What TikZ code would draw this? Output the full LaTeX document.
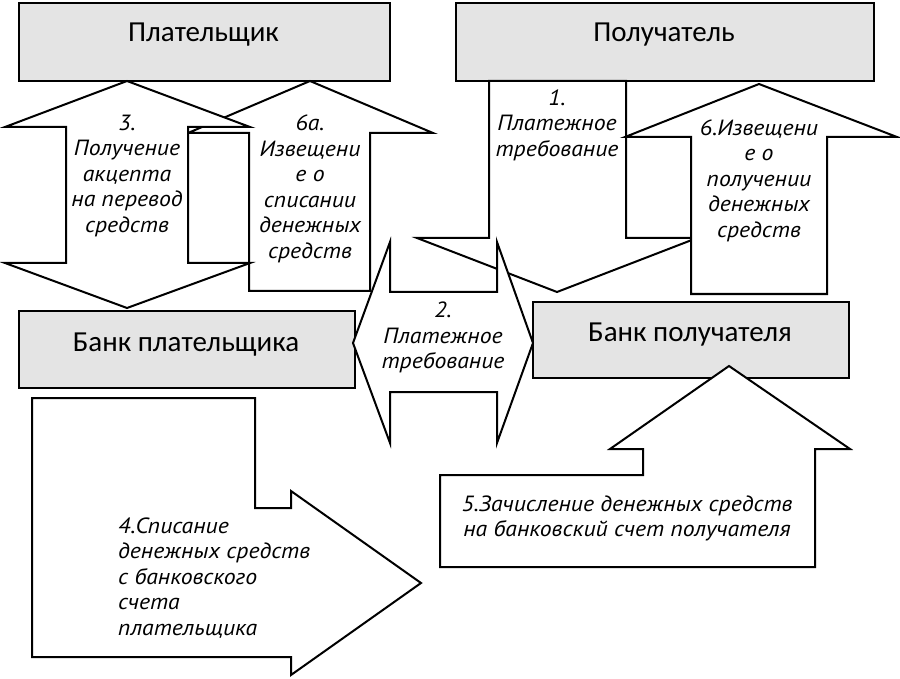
\documentclass[tikz,border=0pt]{standalone}
\usepackage{fontspec}
\setmainfont{Carlito}
\newfontfamily\itf{PT Sans}[FakeStretch=1.08]
\definecolor{boxgray}{RGB}{228,228,228}
\begin{document}
\begin{tikzpicture}[x=1pt,y=-1pt,
  box/.style={draw=black, fill=boxgray, line width=2pt, inner sep=0pt, anchor=north west},
  blk/.style={draw=black, fill=white, line width=2pt, line join=miter, miter limit=20},
  lbl/.style={font=\fontsize{29}{33}\selectfont, anchor=base, inner sep=0pt},
  itl/.style={font=\itf\itshape\fontsize{22}{25.5}\selectfont, align=center, inner sep=0pt},
]
\useasboundingbox[fill=white] (0,0) rectangle (900,679);

% boxes
\node[box, minimum width=371pt, minimum height=78pt] (payer) at (18,2) {};
\node[box, minimum width=418pt, minimum height=78pt] (payee) at (455,2) {};
\node[box, minimum width=336pt, minimum height=77pt] (bankA) at (18,310) {};
\node[box, minimum width=316pt, minimum height=76pt] (bankB) at (532,301) {};

% arrow 6a (behind arrow 3)
\draw[blk] (249,291) -- (249,133) -- (188,133) -- (310,81) -- (433,133) -- (370,133) -- (370,291) -- cycle;
% arrow 3 (double)
\draw[blk] (127,81) -- (250,127) -- (188,127) -- (188,263) -- (250,263) -- (127,308) -- (5,263) -- (66,263) -- (66,127) -- (5,127) -- cycle;
% arrow 1 (down)
\draw[blk] (489,81) -- (626,81) -- (626,238) -- (697,238) -- (557,292) -- (417,238) -- (489,238) -- cycle;
% arrow 6 (up)
\draw[blk] (691,294) -- (691,137) -- (625,137) -- (759,84) -- (897,137) -- (827,137) -- (827,294) -- cycle;
% arrow 2 (double horizontal)
\draw[blk] (353,343) -- (390,242) -- (390,292) -- (497,292) -- (497,242) -- (533,343) -- (497,443) -- (497,392) -- (390,392) -- (390,443) -- cycle;
% arrow 4
\draw[blk] (32,398) -- (255,398) -- (255,508) -- (291,508) -- (291,491) -- (421,583) -- (291,675) -- (291,657) -- (32,657) -- cycle;
% arrow 5
\draw[blk] (440,475) -- (643,475) -- (643,449) -- (610,449) -- (729,366) -- (850,449) -- (815,449) -- (815,567) -- (440,567) -- cycle;

% box labels
\node[lbl] (lpayer) at (203.5,42) {Плательщик};
\node[lbl] (lpayee) at (664,42) {Получатель};
\node[lbl] (lbankA) at (186,351) {Банк плательщика};
\node[lbl] (lbankB) at (690,341) {Банк получателя};

% arrow labels
\node[itl] (t3) at (127,176) {3.\\Получение\\акцепта\\на перевод\\средств};
\node[itl] (t6a) at (310,189) {6а.\\Извещени\\е о\\списании\\денежных\\средств};
\node[itl] (t1) at (557,125) {1.\\Платежное\\требование};
\node[itl] (t6) at (759,180.5) {6.Извещени\\е о\\получении\\денежных\\средств};
\node[itl] (t2) at (443,337.5) {2.\\Платежное\\требование};
\node[itl] (t5) at (627,518.5) {5.Зачисление денежных средств\\на банковский счет получателя};
\node[itl, align=left, anchor=west] (t4) at (118,578) {4.Списание\\денежных средств\\с банковского\\счета\\плательщика};
\end{tikzpicture}
\end{document}
